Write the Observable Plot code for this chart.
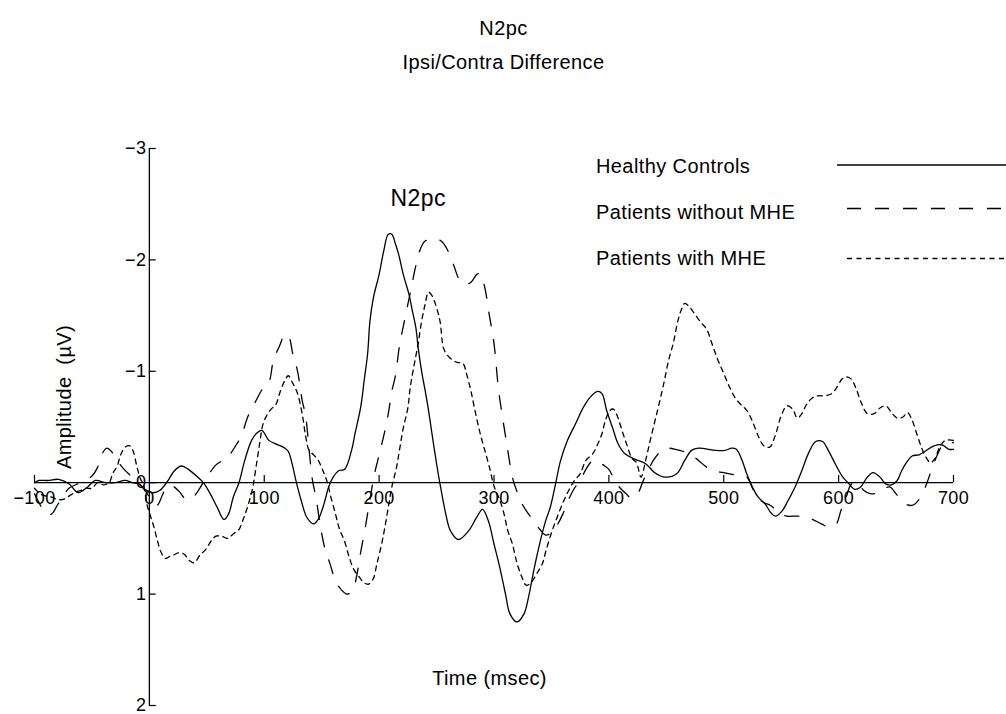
<!DOCTYPE html>
<html>
<head>
<meta charset="utf-8">
<script src="https://cdn.jsdelivr.net/npm/d3@7"></script>
<script src="https://cdn.jsdelivr.net/npm/@observablehq/plot@0.6"></script>
<style>
  html, body { margin: 0; padding: 0; background: #fff; }
  #chart { width: 1006px; height: 714px; position: relative; }
  #chart svg text { letter-spacing: 0.4px; }
</style>
</head>
<body>
<div id="chart"></div>
<script>
// ---- Data ----
const seriesNames = ["Healthy Controls", "Patients without MHE", "Patients with MHE"];

const hcTime = [-100,-96,-88,-79,-70,-62,-54,-47,-38,-30,-21,-15,-9,-4,3,9,15,22,28,34,41,47,53,59,65,69,73,78,83,89,94,98,104,112,118,121,124,128,133,137,143,147,152,156,160,165,170,176,179,184,187,190,192,195,200,204,208,211,214,217,221,226,229,232,234,237,240,243,246,250,253,258,262,269,278,285,290,295,300,305,310,314,320,326,330,334,339,345,349,353,358,364,371,378,384,390,394,398,403,408,414,423,432,440,449,459,466,472,478,493,501,507,511,516,520,525,530,536,541,545,551,556,562,568,574,580,586,591,597,603,609,614,619,625,630,636,641,646,651,655,659,664,670,675,683,690,696,700];
const hcAmp  = [0.00,-0.02,-0.02,-0.03,0.01,0.09,0.04,-0.02,0.00,0.00,-0.02,0.00,0.01,0.06,0.09,0.07,0.00,-0.11,-0.15,-0.12,-0.06,0.00,0.10,0.22,0.33,0.28,0.13,0.00,-0.20,-0.38,-0.45,-0.47,-0.38,-0.34,-0.31,-0.28,-0.18,0.00,0.19,0.31,0.37,0.33,0.19,0.04,-0.05,-0.11,-0.12,-0.29,-0.44,-0.68,-0.92,-1.16,-1.45,-1.66,-1.87,-2.08,-2.23,-2.23,-2.15,-2.05,-1.87,-1.69,-1.54,-1.39,-1.21,-1.00,-0.83,-0.65,-0.44,-0.17,0.01,0.28,0.43,0.51,0.43,0.31,0.24,0.34,0.55,0.76,1.00,1.18,1.25,1.18,1.03,0.82,0.58,0.34,0.22,0.04,-0.20,-0.38,-0.53,-0.68,-0.77,-0.82,-0.80,-0.65,-0.50,-0.35,-0.26,-0.21,-0.17,-0.09,-0.05,-0.08,-0.20,-0.29,-0.31,-0.29,-0.29,-0.31,-0.30,-0.20,-0.08,0.04,0.13,0.19,0.27,0.30,0.25,0.16,0.04,-0.11,-0.27,-0.37,-0.37,-0.29,-0.17,-0.06,0.01,0.06,0.04,-0.05,-0.09,-0.05,0.01,0.02,-0.02,-0.11,-0.18,-0.24,-0.25,-0.28,-0.33,-0.34,-0.30,-0.30];

const woTime = [-100,-95,-90,-85,-80,-75,-70,-60,-50,-45,-40,-37,-33,-28,-22,-15,-8,-3,3,7,11,15,20,26,32,37,42,48,52,58,64,69,75,80,86,92,99,104,108,113,118,121,125,129,133,136,139,142,145,149,153,157,162,167,172,177,180,184,188,192,196,200,204,208,211,214,218,221,225,228,232,236,240,245,250,255,260,265,270,275,280,285,288,292,296,300,304,308,312,316,320,325,330,335,340,345,350,355,360,365,370,375,380,385,390,395,400,405,410,415,420,425,430,435,440,447,452,458,465,472,478,485,490,500,510,520,525,530,535,540,545,550,555,565,575,585,592,598,602,606,610,614,618,622,628,634,640,645,650,655,660,665,670,675,678,682,686,690,695,700];
const woAmp  = [0.10,0.20,0.28,0.28,0.20,0.12,0.05,0.00,-0.06,-0.14,-0.28,-0.31,-0.28,-0.20,-0.12,-0.05,0.02,0.08,0.18,0.20,0.12,0.04,0.03,0.08,0.15,0.14,0.08,-0.02,-0.08,-0.16,-0.20,-0.24,-0.33,-0.42,-0.60,-0.72,-0.85,-0.90,-1.10,-1.22,-1.33,-1.32,-1.15,-1.00,-0.74,-0.60,-0.30,-0.02,0.13,0.40,0.60,0.72,0.88,0.96,1.00,0.97,0.86,0.62,0.40,0.15,-0.08,-0.25,-0.42,-0.62,-0.82,-0.95,-1.25,-1.40,-1.60,-1.75,-1.95,-2.10,-2.17,-2.18,-2.19,-2.16,-2.08,-1.95,-1.82,-1.78,-1.80,-1.87,-1.88,-1.75,-1.50,-1.25,-0.83,-0.55,-0.29,-0.05,0.08,0.20,0.28,0.35,0.42,0.47,0.45,0.38,0.28,0.15,0.05,-0.02,-0.12,-0.19,-0.20,-0.16,-0.12,-0.02,0.05,0.10,0.14,0.10,-0.02,-0.13,-0.22,-0.30,-0.31,-0.30,-0.28,-0.25,-0.20,-0.14,-0.11,-0.09,-0.07,-0.05,0.05,0.14,0.18,0.20,0.24,0.28,0.30,0.30,0.32,0.37,0.40,0.37,0.25,0.15,0.03,-0.01,0.02,0.07,0.10,0.09,0.05,0.04,0.10,0.16,0.20,0.20,0.15,0.05,-0.03,-0.15,-0.25,-0.33,-0.36,-0.36];

const wiTime = [-100,-95,-90,-85,-80,-75,-70,-65,-60,-55,-50,-45,-40,-35,-32,-28,-25,-21,-17,-14,-11,-8,-5,-2,1,4,7,10,14,18,21,25,30,35,39,44,49,54,58,63,68,73,78,82,86,90,93,96,99,102,106,110,114,118,121,125,129,133,136,139,143,147,151,155,158,162,165,170,174,178,183,187,191,195,198,202,205,208,211,215,218,221,225,227,230,234,237,240,243,246,250,253,256,259,264,268,273,276,280,284,288,292,296,300,304,308,312,316,320,324,328,332,337,342,345,350,355,360,365,370,375,380,386,390,394,397,401,404,408,412,416,420,424,428,432,436,440,444,448,452,456,460,463,466,470,475,480,485,490,495,500,505,510,515,520,525,530,535,540,545,550,555,560,564,568,572,577,582,588,594,598,603,607,611,615,620,625,631,636,641,646,651,656,660,664,668,672,676,680,684,688,693,700];
const wiAmp  = [0.05,0.10,0.12,0.13,0.15,0.15,0.12,0.09,0.07,0.05,0.05,0.00,0.02,0.00,-0.08,-0.15,-0.25,-0.32,-0.33,-0.28,-0.15,-0.04,0.02,0.20,0.30,0.40,0.52,0.62,0.68,0.66,0.65,0.63,0.64,0.70,0.72,0.65,0.60,0.52,0.48,0.48,0.50,0.46,0.42,0.32,0.20,0.04,-0.15,-0.35,-0.53,-0.60,-0.66,-0.70,-0.82,-0.92,-0.96,-0.89,-0.80,-0.62,-0.42,-0.29,-0.25,-0.20,-0.11,0.00,0.13,0.28,0.40,0.53,0.67,0.78,0.85,0.90,0.91,0.86,0.73,0.56,0.40,0.22,0.04,-0.13,-0.31,-0.49,-0.67,-0.85,-1.03,-1.25,-1.45,-1.60,-1.71,-1.68,-1.57,-1.45,-1.21,-1.15,-1.10,-1.08,-1.07,-0.98,-0.82,-0.62,-0.44,-0.29,-0.14,0.03,0.13,0.25,0.43,0.55,0.72,0.84,0.92,0.90,0.82,0.73,0.62,0.45,0.31,0.18,0.07,-0.02,-0.08,-0.20,-0.26,-0.34,-0.44,-0.56,-0.65,-0.66,-0.58,-0.45,-0.33,-0.22,-0.18,-0.05,-0.20,-0.38,-0.55,-0.72,-0.90,-1.10,-1.25,-1.45,-1.55,-1.61,-1.58,-1.51,-1.44,-1.38,-1.24,-1.10,-0.98,-0.86,-0.76,-0.70,-0.65,-0.55,-0.42,-0.33,-0.32,-0.43,-0.60,-0.69,-0.66,-0.58,-0.62,-0.70,-0.76,-0.78,-0.78,-0.80,-0.85,-0.93,-0.95,-0.93,-0.85,-0.71,-0.62,-0.62,-0.67,-0.69,-0.63,-0.58,-0.59,-0.63,-0.56,-0.44,-0.32,-0.23,-0.18,-0.22,-0.32,-0.38,-0.38];

const xTicks = [-100, 0, 100, 200, 300, 400, 500, 600, 700];
const yTicks = [-3, -2, -1, 0, 1, 2];
const annotations = [{t: 234, v: -2.55, label: "N2pc"}];

// ---- Build tables ----
const toRows = (times, amps) => times.map((t, i) => ({t, v: amps[i]}));
const hc = toRows(hcTime, hcAmp);
const wo = toRows(woTime, woAmp);
const wi = toRows(wiTime, wiAmp);

const dashes = ["none", "14,14", "5,4.5"];
const FONT = "'Liberation Sans', Arial, Helvetica, sans-serif";
const FS = 20;      // titles, labels, legend
const FS_TICK = 18; // tick labels
const fmt = d => (d < 0 ? "\u2212" + Math.abs(d) : String(d));

const svg = Plot.plot({
  width: 1006,
  height: 714,
  marginLeft: 34,
  marginRight: 53,
  marginTop: 148,
  marginBottom: 9,
  style: {fontFamily: FONT, fontSize: FS + "px", background: "white", overflow: "visible"},
  x: {domain: [xTicks[0], xTicks[xTicks.length - 1]], axis: null},
  y: {domain: [yTicks[0], yTicks[yTicks.length - 1]], reverse: true, axis: null},
  marks: [
    // axes
    Plot.ruleX([0], {y1: yTicks[0], y2: yTicks[yTicks.length - 1], stroke: "#000", strokeWidth: 1.3}),
    Plot.ruleY([0], {x1: xTicks[0], x2: xTicks[xTicks.length - 1], stroke: "#000", strokeWidth: 1.3}),
    Plot.ruleY(yTicks, {y: d => d, x1: 0, x2: 6, stroke: "#000", strokeWidth: 1.2}),
    Plot.ruleX(xTicks.filter(d => d !== 0), {x: d => d, y1: 0, y2: -0.065, stroke: "#000", strokeWidth: 1.2}),
    Plot.text(yTicks, {x: 0, y: d => d, text: d => fmt(d), textAnchor: "end", dx: -3, fontSize: FS_TICK, fill: "#000"}),
    Plot.text(xTicks, {x: d => d, y: 0, text: d => fmt(d), dy: 16, fontSize: FS_TICK, fill: "#000"}),
    // series
    Plot.line(hc, {x: "t", y: "v", stroke: "#000", strokeWidth: 1.3, curve: "catmull-rom"}),
    Plot.line(wo, {x: "t", y: "v", stroke: "#000", strokeWidth: 1.3, strokeDasharray: dashes[1], curve: "catmull-rom"}),
    Plot.line(wi, {x: "t", y: "v", stroke: "#000", strokeWidth: 1.3, strokeDasharray: dashes[2], curve: "catmull-rom"}),
    // annotation
    Plot.text(annotations, {x: "t", y: "v", text: "label", fontSize: 23, fill: "#000"}),
    // titles and axis labels
    Plot.text(["N2pc"], {frameAnchor: "top", lineAnchor: "middle", textAnchor: "middle", dx: 9.5, dy: -120, fontSize: FS, fill: "#000"}),
    Plot.text(["Ipsi/Contra Difference"], {frameAnchor: "top", lineAnchor: "middle", textAnchor: "middle", dx: 9.5, dy: -86, fontSize: FS, fill: "#000"}),
    Plot.text(["Time (msec)"], {frameAnchor: "bottom", lineAnchor: "middle", textAnchor: "middle", dx: -4.5, dy: -27, fontSize: FS, fill: "#000"}),
    Plot.text(["Amplitude\u00a0 (\u00b5V)"], {frameAnchor: "left", lineAnchor: "middle", textAnchor: "middle", rotate: -90, dx: 30, dy: -30, fontSize: FS, fill: "#000"})
  ]
});

// ---- Legend (inside the plot area, top right) ----
const leg = d3.select(svg).append("g").attr("class", "legend").attr("text-anchor", "start");
const legRows = [
  {name: seriesNames[0], ty: 166, ly: 165, lx: 837, dash: dashes[0]},
  {name: seriesNames[1], ty: 212, ly: 208.5, lx: 847, dash: dashes[1]},
  {name: seriesNames[2], ty: 258, ly: 258.5, lx: 847, dash: dashes[2]}
];
legRows.forEach(r => {
  leg.append("text").attr("x", 596).attr("y", r.ty).attr("dy", "0.35em")
    .attr("text-anchor", "start")
    .attr("font-family", FONT).attr("font-size", FS).attr("fill", "#000").text(r.name);
  leg.append("line").attr("x1", r.lx).attr("x2", 1006).attr("y1", r.ly).attr("y2", r.ly)
    .attr("stroke", "#000").attr("stroke-width", 1.3)
    .attr("stroke-dasharray", r.dash === "none" ? null : r.dash);
});

document.getElementById("chart").appendChild(svg);
</script>
</body>
</html>
